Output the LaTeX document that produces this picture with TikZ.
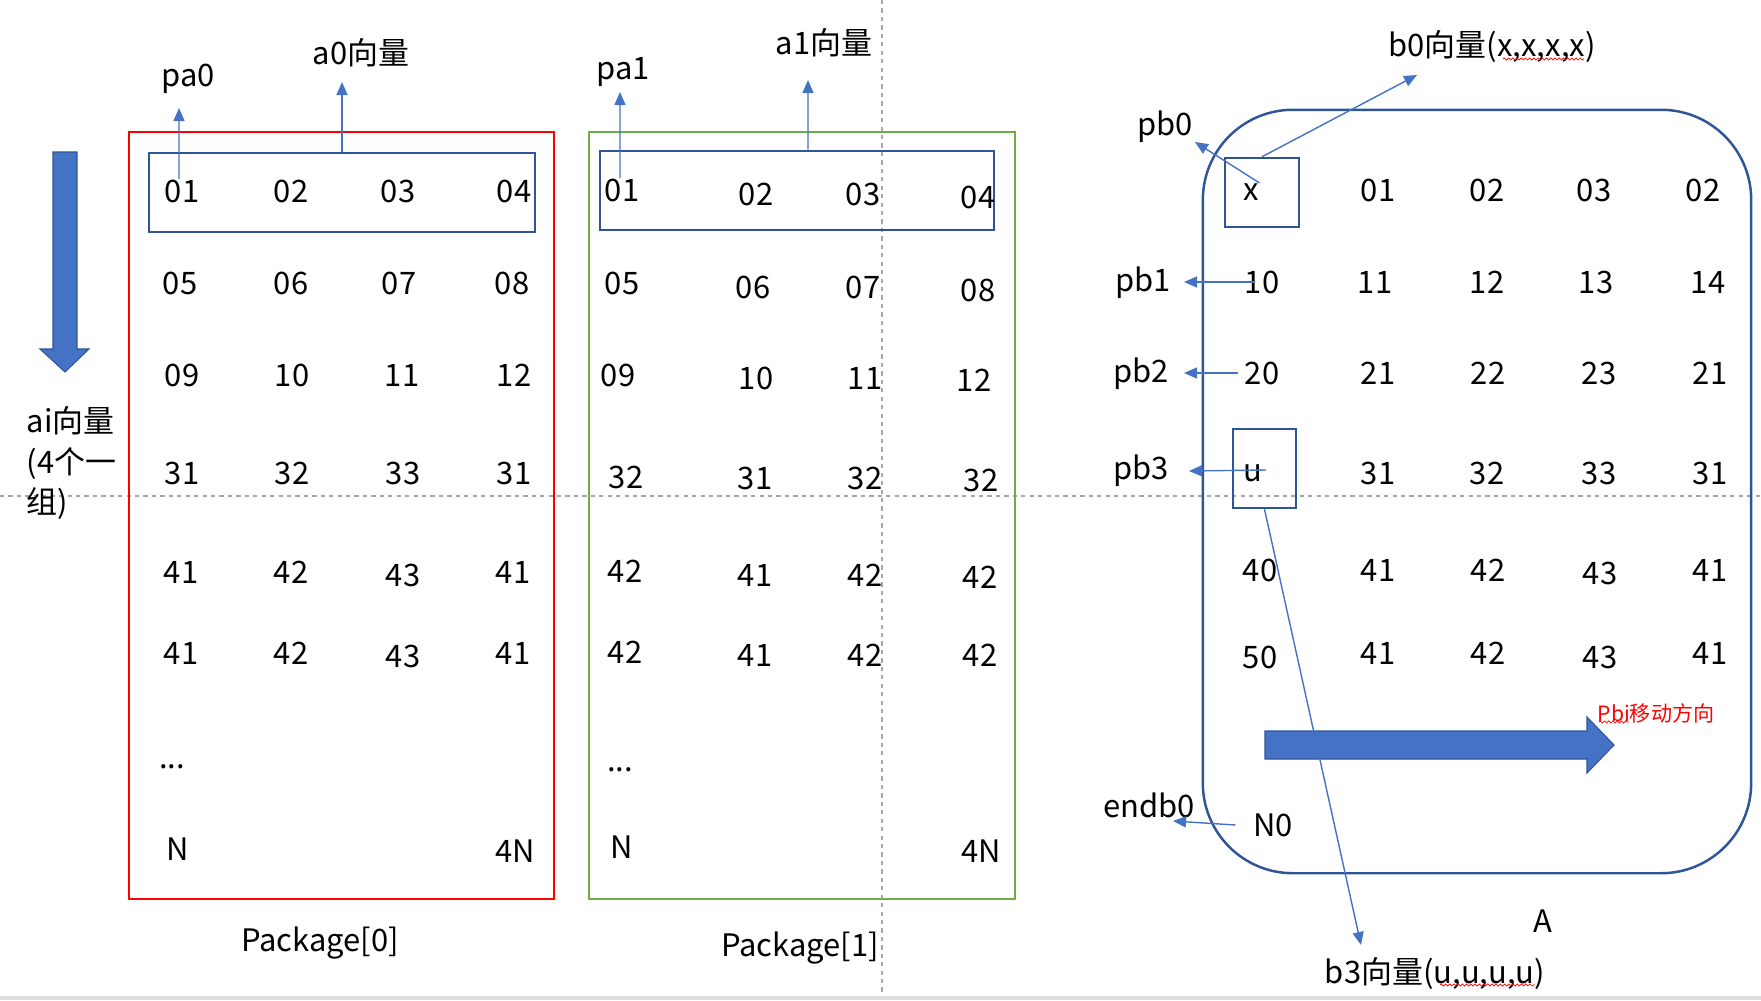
\documentclass[tikz,border=0pt]{standalone}
\usepackage{fontspec}
\setmainfont{Noto Sans CJK SC}
\usepackage{xcolor}
\usepackage{tikz}
\usetikzlibrary{arrows.meta,positioning,calc,decorations.pathmorphing}

\definecolor{boxblue}{HTML}{2F5597}
\definecolor{arrblue}{HTML}{4472C4}
\definecolor{pkgred}{HTML}{FF0000}
\definecolor{pkggreen}{HTML}{70AD47}
\definecolor{guidegray}{HTML}{A6A6A6}

\begin{document}
\begin{tikzpicture}[
    x=0.01cm, y=-0.01cm,
    font=\fontsize{8.8}{10}\selectfont,
    % one pixel of the slide is 0.01cm
    num/.style={inner sep=0pt},
    lbl/.style={inner sep=0pt},
    pkgbox/.style={draw, line width=0.6pt, minimum width=4.25cm, minimum height=7.67cm},
    grpbox/.style={draw=boxblue, line width=0.7pt},
    ptr/.style={draw=arrblue, line width=0.4pt, -{Triangle[length=1.3mm, width=1.1mm]}},
    bigarrow/.style={fill=arrblue, draw=boxblue, line width=0.3pt},
    guide/.style={draw=guidegray, line width=0.3pt, dash pattern=on 1.2pt off 1.2pt},
    squiggle/.style={draw=red, line width=0.2pt, decorate, decoration={snake, amplitude=0.3pt, segment length=1.2pt}}
]
    \useasboundingbox[fill=white] (0,0) rectangle (1761,1000);

    % --- Guides of the slide ---
    \draw[guide] (882,0) -- (882,1000);
    \draw[guide] (0,496) -- (1761,496);
    \fill[gray!25] (0,996) rectangle (1761,1000);

    % --- Direction of ai ---
    \draw[bigarrow] (53,152) -- (77,152) -- (77,349) -- (89,349) -- (65,372)
        -- (40,349) -- (53,349) -- cycle;
    \node[lbl, anchor=west, align=left, font=\fontsize{8.8}{11.4}\selectfont] (ailbl) at (26,463)
        {ai向量\\(4个一\\组)};

    % --- Package[0] ---
    \node[pkgbox, draw=pkgred] (pkg0) at (341.5,515.5) {};
    \node[grpbox, minimum width=3.86cm, minimum height=0.79cm] (grp0) at (342,192.5) {};
    \node[num] (c0-01) at (182,191) {01};
    \foreach \x/\y/\t in {291/191/02, 398/191/03, 514/191/04,
        180/283/05, 291/283/06, 399/283/07, 512/283/08,
        182/375/09, 292/375/10, 402/375/11, 514/375/12,
        182/473/31, 292/473/32, 403/473/33, 514/473/31,
        181/572/41, 291/572/42, 403/575/43, 513/572/41,
        181/653/41, 291/653/42, 403/656/43, 513/653/41,
        178/849/N, 515/851/4N}
        \node[num] at (\x,\y) {\t};
    \node[num] (c0-dots) at (172,767) {...};
    \node[lbl] (pkg0lbl) at (320,943) {Package[0]};

    \node[lbl] (pa0) at (188,79) {pa0};
    \node[lbl] (a0) at (361,53) {a0向量};
    \coordinate (pa0tip) at (179,108);
    \coordinate (a0tip) at (342,82);
    \draw[ptr] ([xshift=-0.03cm]c0-01.north) -- (pa0tip);
    \draw[ptr] (grp0.north) -- (a0tip);

    % --- Package[1] ---
    \node[pkgbox, draw=pkggreen] (pkg1) at (802,515.5) {};
    \node[grpbox, minimum width=3.94cm, minimum height=0.79cm] (grp1) at (797,190.5) {};
    \node[num] (c1-01) at (622,190) {01};
    \foreach \x/\y/\t in {756/194/02, 863/194/03, 978/197/04,
        622/283/05, 753/287/06, 863/287/07, 978/290/08,
        618/375/09, 756/378/10, 865/378/11, 974/380/12,
        626/477/32, 755/478/31, 865/478/32, 981/480/32,
        625/571/42, 755/575/41, 865/575/42, 980/577/42,
        625/652/42, 755/655/41, 865/655/42, 980/655/42,
        622/847/N, 981/851/4N}
        \node[num] at (\x,\y) {\t};
    \node[num] (c1-dots) at (620,770) {...};
    \node[lbl] (pkg1lbl) at (800,948) {Package[1]};

    \node[lbl] (pa1) at (623,72) {pa1};
    \node[lbl] (a1) at (824,43) {a1向量};
    \coordinate (pa1tip) at (620,92);
    \coordinate (a1tip) at (808,80);
    \draw[ptr] ([xshift=-0.02cm]c1-01.north) -- (pa1tip);
    \draw[ptr] ([xshift=0.11cm]grp1.north) -- (a1tip);

    % --- Matrix A ---
    \node[draw=boxblue, line width=0.7pt, rounded corners=0.9cm,
        minimum width=5.48cm, minimum height=7.63cm] (matA) at (1477,491.5) {};
    \node[grpbox, minimum width=0.74cm, minimum height=0.69cm] (xbox) at (1262,192.5) {};
    \node[grpbox, minimum width=0.63cm, minimum height=0.79cm] (ubox) at (1264.5,468.5) {};
    \node[num] (cx) at (1251,192) {x};
    \node[num] (c10) at (1262,282) {10};
    \node[num] (c20) at (1262,373) {20};
    \node[num] (cu) at (1253,473) {u};
    \node[num] (cN0) at (1273,825) {N0};
    \foreach \x/\y/\t in {1378/190/01, 1487/190/02, 1594/190/03, 1703/190/02,
        1375/282/11, 1487/282/12, 1596/282/13, 1708/282/14,
        1378/373/21, 1488/373/22, 1599/373/23, 1710/373/21,
        1378/473/31, 1487/473/32, 1599/473/33, 1710/473/31,
        1260/570/40, 1378/570/41, 1488/570/42, 1600/573/43, 1710/570/41,
        1260/657/50, 1378/653/41, 1488/653/42, 1600/657/43, 1710/653/41}
        \node[num] at (\x,\y) {\t};
    \node[lbl] (Albl) at (1543,921) {A};

    % moving direction of pbi
    \draw[bigarrow] (1265,731) -- (1587,731) -- (1587,717) -- (1614,745)
        -- (1587,773) -- (1587,759) -- (1265,759) -- cycle;
    \node[lbl, text=red, font=\fontsize{6}{7}\selectfont] (pbidir) at (1656,713) {Pbi移动方向};

    % pointers and vectors
    \node[lbl] (pb0) at (1165,127) {pb0};
    \node[lbl] (pb1) at (1143,283) {pb1};
    \node[lbl] (pb2) at (1141,374) {pb2};
    \node[lbl] (pb3) at (1141,471) {pb3};
    \node[lbl] (endb0) at (1149,805) {endb0};
    \node[lbl] (b0) at (1492,47) {b0向量(x,x,x,x)};
    \node[lbl] (b3) at (1435,973) {b3向量(u,u,u,u)};
    \coordinate (pb0tip) at (1195,142);
    \coordinate (pb1tip) at (1184,282);
    \coordinate (pb2tip) at (1184,373);
    \coordinate (pb3tip) at (1189,471);
    \coordinate (endb0tip) at (1173,821);
    \coordinate (b0tip) at (1417,75);
    \coordinate (b3tip) at (1361,945);
    \draw[ptr] (cx.north east) -- (pb0tip);
    \draw[ptr] (xbox.north) -- (b0tip);
    \draw[ptr] ([xshift=-0.08cm]c10.center) -- (pb1tip);
    \draw[ptr] ([xshift=-0.06cm]c20.west) -- (pb2tip);
    \draw[ptr] ([xshift=0.03cm, yshift=0.03cm]cu.east) -- (pb3tip);
    \draw[ptr] (ubox.south) -- (b3tip);
    \draw[ptr] ([xshift=-0.17cm]cN0.west) -- (endb0tip);

    % spell check marks
    \draw[squiggle] (1503,59) -- (1584,59);
    \draw[squiggle] (1440,985) -- (1535,985);
    \draw[squiggle] (1599,722) -- (1629,722);
\end{tikzpicture}
\end{document}
